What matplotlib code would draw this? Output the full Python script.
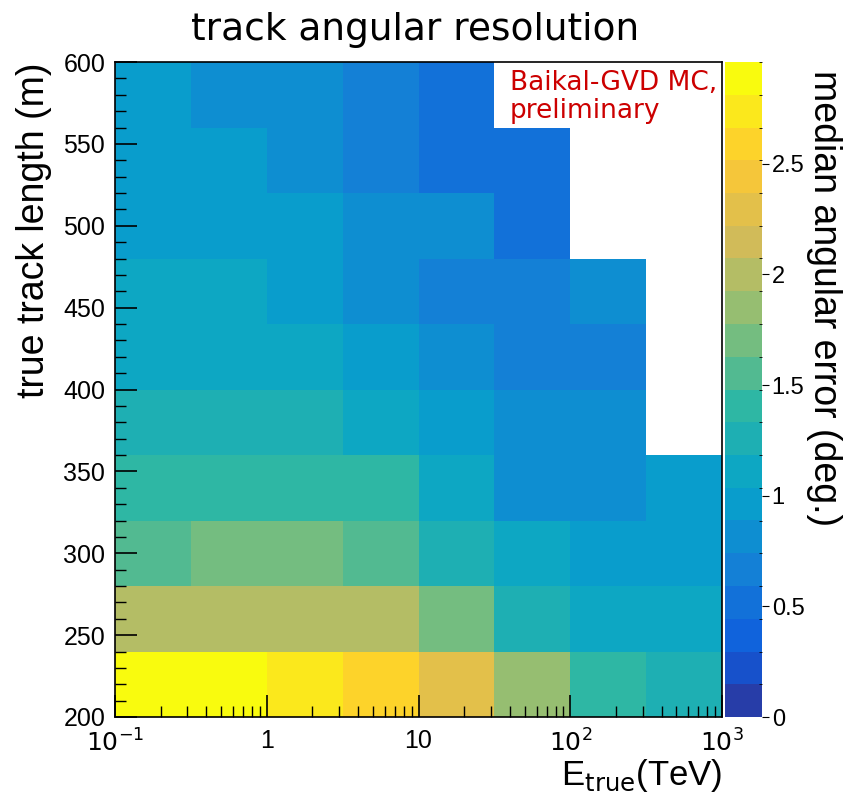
import numpy as np
import matplotlib
matplotlib.use("Agg")
import matplotlib.pyplot as plt
from matplotlib.colors import LinearSegmentedColormap, ListedColormap, BoundaryNorm
from matplotlib.ticker import FixedLocator, NullFormatter

# bin edges
e_edges = 10 ** np.arange(-1, 3.01, 0.5)      # TeV
l_edges = np.arange(200, 601, 40)              # m

# median angular error (deg.), rows = track length bins (200 -> 600), cols = energy bins
row_200 = [2.90, 2.90, 2.75, 2.60, 2.32, 1.85, 1.42, 1.28]
row_240 = [2.02, 2.02, 2.02, 2.02, 1.70, 1.28, 1.10, 1.10]
row_280 = [1.55, 1.70, 1.70, 1.55, 1.28, 1.10, 1.02, 1.02]
row_320 = [1.42, 1.42, 1.42, 1.42, 1.05, 0.85, 0.85, 1.00]
row_360 = [1.28, 1.28, 1.28, 1.10, 1.00, 0.85, 0.85, np.nan]
row_400 = [1.15, 1.15, 1.15, 1.00, 0.85, 0.70, 0.70, np.nan]
row_440 = [1.10, 1.10, 1.00, 0.85, 0.70, 0.70, 0.85, np.nan]
row_480 = [1.00, 1.00, 1.00, 0.85, 0.75, 0.55, np.nan, np.nan]
row_520 = [0.95, 0.95, 0.85, 0.70, 0.55, 0.55, np.nan, np.nan]
row_560 = [0.95, 0.85, 0.85, 0.70, 0.55, np.nan, np.nan, np.nan]
z = np.array([row_200, row_240, row_280, row_320, row_360,
              row_400, row_440, row_480, row_520, row_560])
zmax = 2.96

# ROOT kBird palette, 20 contour levels
stops = [0.0, 0.125, 0.25, 0.375, 0.5, 0.625, 0.75, 0.875, 1.0]
red = [0.2082, 0.0592, 0.0780, 0.0232, 0.1802, 0.5301, 0.8186, 0.9956, 0.9764]
green = [0.1664, 0.3599, 0.5041, 0.6419, 0.7178, 0.7492, 0.7328, 0.7862, 0.9832]
blue = [0.5293, 0.8684, 0.8385, 0.7914, 0.6425, 0.4662, 0.3499, 0.1968, 0.0539]
bird = LinearSegmentedColormap.from_list("bird", list(zip(stops, zip(red, green, blue))), N=255)
ncont = 20
idx = [int((i + 0.99) * 255 / ncont) for i in range(ncont)]
cmap = ListedColormap([bird(min(k, 254)) for k in idx])
levels = np.linspace(0, zmax, ncont + 1)
norm = BoundaryNorm(levels, cmap.N)

plt.rcParams['font.family'] = ['Liberation Sans', 'DejaVu Sans']
plt.rcParams['xtick.direction'] = 'in'
plt.rcParams['ytick.direction'] = 'in'

W, H = 843, 801
fig = plt.figure(figsize=(W / 100, H / 100), dpi=100)
ax = fig.add_axes([115 / W, 1 - 717 / H, (722 - 115) / W, (717 - 62) / H])
cax = fig.add_axes([725 / W, 1 - 717 / H, (762 - 725) / W, (717 - 62) / H])

mesh = ax.pcolormesh(e_edges, l_edges, np.ma.masked_invalid(z), cmap=cmap, norm=norm)
ax.set_xscale('log')
ax.set_xlim(0.1, 1000)
ax.set_ylim(200, 600)

ax.set_xticks([0.1, 1, 10, 100, 1000])
ax.set_xticklabels(['$10^{-1}$', '1', '10', '$10^{2}$', '$10^{3}$'])
minors = [m * 10.0 ** d for d in range(-1, 3) for m in range(2, 10)]
ax.xaxis.set_minor_locator(FixedLocator(minors))
ax.xaxis.set_minor_formatter(NullFormatter())
ax.set_yticks(np.arange(200, 601, 50))
ax.yaxis.set_minor_locator(FixedLocator(np.arange(200, 601, 10)))
ax.tick_params(which='major', length=16, width=1.2, labelsize=18, pad=7)
ax.tick_params(which='minor', length=8, width=1.0)
ax.tick_params(axis='x', pad=9)
for s in ax.spines.values():
    s.set_linewidth(1.2)

ax.set_xlabel(r'E$_{\rm true}$(TeV)', fontsize=25, loc='right', labelpad=0)
ax.set_ylabel('true track length (m)', fontsize=27, loc='top', labelpad=8)

fig.text(415 / W, 1 - 30 / H, 'track angular resolution', fontsize=27,
         family='DejaVu Sans', ha='center', va='center')

ax.text((510 - 115) / (722 - 115), 1 - (70 - 62) / (717 - 62),
        'Baikal-GVD MC,\npreliminary', transform=ax.transAxes,
        color='#cc0000', fontsize=19, family='DejaVu Sans', va='top', ha='left',
        linespacing=1.12)

cb = fig.colorbar(mesh, cax=cax, ticks=[0, 0.5, 1, 1.5, 2, 2.5])
cb.ax.set_yticklabels(['0', '0.5', '1', '1.5', '2', '2.5'])
cb.ax.tick_params(direction='out', length=5, labelsize=17, pad=2)
cb.outline.set_visible(False)
fig.text(824 / W, 1 - 70 / H, 'median angular error (deg.)', fontsize=27,
         rotation=-90, ha='center', va='top')

fig.savefig('out.png', dpi=100)
